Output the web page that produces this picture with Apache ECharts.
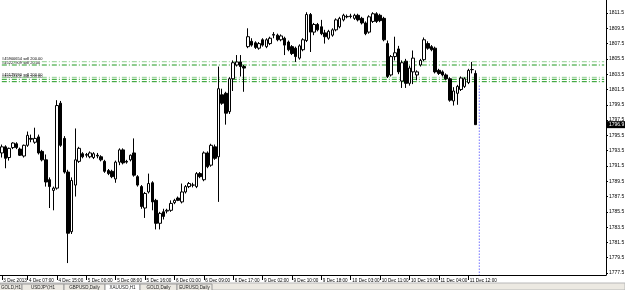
<!DOCTYPE html>
<html>
<head>
<meta charset="utf-8">
<title>XAUUSD H1</title>
<script src="https://cdn.jsdelivr.net/npm/echarts@6/dist/echarts.min.js"></script>
<style>
html, body { margin: 0; padding: 0; background: #fff; }
#chart { width: 625px; height: 290px; }
</style>
</head>
<body>
<div id="chart"></div>
<script>
// H1 bars (3 Dec 23:00 .. 11 Dec 14:00)
var opens = [
  1793.2, 1794.0, 1792.6, 1793.9, 1794.4, 1793.7, 1792.8, 1794.2, 1795.1, 1794.6,
  1795.3, 1793.4, 1792.3, 1789.7, 1788.3, 1788.6, 1799.7, 1795.1, 1790.7, 1782.9,
  1789.0, 1792.1, 1793.1, 1792.9, 1792.7, 1792.6, 1792.9, 1792.7, 1792.1, 1790.9,
  1790.8, 1789.8, 1792.0, 1793.6, 1792.1, 1792.3, 1793.2, 1790.1, 1788.8, 1786.0,
  1788.1, 1789.3, 1787.0, 1784.0, 1785.5, 1785.6, 1785.7, 1786.7, 1787.3, 1786.8,
  1788.1, 1788.8, 1789.0, 1788.8, 1790.5, 1789.7, 1793.2, 1791.6, 1794.0, 1792.7,
  1800.8, 1801.0, 1798.6, 1802.9, 1804.7, 1805.1, 1804.5, 1807.1, 1807.8, 1807.6,
  1806.9, 1808.0, 1807.1, 1807.5, 1808.6, 1808.6, 1808.0, 1808.2, 1807.7, 1807.1,
  1806.9, 1805.6, 1806.7, 1807.9, 1811.3, 1809.0, 1810.0, 1809.7, 1808.9, 1808.2,
  1808.6, 1809.3, 1809.7, 1810.6, 1811.0, 1811.1, 1810.8, 1811.2, 1810.8, 1810.2,
  1809.0, 1810.4, 1811.4, 1811.2, 1810.8, 1807.5, 1803.4, 1805.8, 1806.8, 1802.6,
  1805.2, 1802.3, 1803.8, 1803.4, 1804.7, 1805.4, 1807.5, 1807.1, 1806.9, 1804.0,
  1803.8, 1803.4, 1802.9, 1800.0, 1801.0, 1801.5, 1801.9, 1802.4, 1804.1, 1803.6
];
var highs = [
  1794.3, 1794.2, 1793.9, 1794.6, 1794.6, 1793.9, 1794.3, 1796.0, 1795.6, 1796.5,
  1795.6, 1793.6, 1793.0, 1790.0, 1788.8, 1800.1, 1800.0, 1795.4, 1791.0, 1790.0,
  1796.4, 1794.0, 1793.3, 1793.2, 1793.4, 1793.3, 1793.2, 1792.9, 1792.3, 1791.1,
  1791.0, 1792.2, 1793.8, 1793.8, 1792.3, 1793.0, 1795.1, 1790.3, 1789.0, 1788.1,
  1790.5, 1789.5, 1787.2, 1785.5, 1785.9, 1785.9, 1787.0, 1787.2, 1787.5, 1789.2,
  1789.0, 1789.4, 1789.3, 1790.7, 1790.7, 1793.4, 1793.4, 1794.4, 1794.3, 1804.5,
  1801.6, 1801.2, 1803.1, 1805.3, 1806.0, 1806.0, 1804.7, 1809.5, 1808.2, 1807.8,
  1807.7, 1808.2, 1808.2, 1808.4, 1809.0, 1808.8, 1808.7, 1808.4, 1807.9, 1807.3,
  1807.1, 1807.4, 1808.2, 1811.6, 1811.5, 1810.2, 1810.2, 1810.6, 1809.3, 1809.3,
  1809.5, 1810.8, 1811.0, 1811.4, 1811.3, 1811.4, 1811.4, 1811.4, 1811.0, 1810.4,
  1811.2, 1811.6, 1811.6, 1811.4, 1811.0, 1807.9, 1806.0, 1808.4, 1807.2, 1805.3,
  1805.5, 1804.6, 1806.6, 1804.0, 1805.5, 1808.3, 1807.8, 1807.3, 1807.1, 1804.2,
  1804.0, 1803.6, 1803.1, 1801.8, 1802.1, 1803.2, 1803.1, 1804.2, 1805.1, 1804.0
];
var lows = [
  1792.6, 1791.2, 1792.2, 1793.7, 1793.7, 1792.8, 1792.6, 1794.0, 1794.6, 1794.4,
  1793.0, 1792.1, 1788.8, 1786.0, 1785.7, 1788.4, 1794.0, 1790.5, 1778.8, 1782.6,
  1787.5, 1791.9, 1792.5, 1792.6, 1792.5, 1792.4, 1792.5, 1792.1, 1790.6, 1790.3,
  1789.9, 1789.3, 1791.6, 1791.7, 1791.8, 1792.1, 1790.1, 1788.8, 1785.9, 1784.7,
  1787.9, 1785.7, 1783.2, 1783.2, 1784.5, 1785.3, 1785.5, 1786.5, 1786.9, 1786.6,
  1787.9, 1788.6, 1788.7, 1788.6, 1789.9, 1789.5, 1791.2, 1791.4, 1792.3, 1786.8,
  1799.5, 1796.9, 1798.3, 1801.3, 1804.5, 1803.2, 1801.2, 1806.9, 1807.1, 1806.8,
  1806.7, 1807.1, 1806.9, 1807.3, 1808.2, 1807.8, 1807.8, 1806.0, 1806.5, 1806.0,
  1805.1, 1805.4, 1806.5, 1807.7, 1806.4, 1808.6, 1809.1, 1808.6, 1807.5, 1808.0,
  1808.4, 1809.1, 1809.5, 1810.4, 1810.8, 1810.8, 1810.6, 1810.4, 1810.0, 1808.6,
  1808.8, 1810.2, 1810.2, 1810.3, 1807.8, 1803.0, 1803.2, 1805.3, 1803.5, 1801.7,
  1801.7, 1802.0, 1802.2, 1802.7, 1804.5, 1805.2, 1806.7, 1806.5, 1803.6, 1803.4,
  1803.2, 1802.7, 1799.9, 1799.4, 1799.5, 1801.3, 1801.7, 1802.2, 1803.6, 1796.9
];
var closes = [
  1794.0, 1792.5, 1793.8, 1794.5, 1793.9, 1792.9, 1794.2, 1795.5, 1795.0, 1795.1,
  1793.2, 1792.3, 1789.4, 1788.8, 1788.6, 1799.4, 1794.2, 1790.7, 1782.7, 1789.6,
  1792.3, 1793.8, 1792.7, 1793.0, 1793.2, 1793.1, 1792.8, 1792.3, 1790.8, 1790.5,
  1790.1, 1792.0, 1793.6, 1791.9, 1792.0, 1792.9, 1790.3, 1789.0, 1786.2, 1787.9,
  1789.2, 1786.8, 1784.0, 1785.3, 1784.9, 1785.7, 1786.6, 1787.0, 1787.0, 1788.1,
  1788.8, 1789.2, 1789.0, 1790.5, 1790.1, 1793.2, 1791.4, 1794.2, 1792.5, 1801.6,
  1799.7, 1798.4, 1802.9, 1805.0, 1805.1, 1804.5, 1804.3, 1808.4, 1807.3, 1807.0,
  1807.5, 1807.3, 1808.0, 1808.2, 1808.7, 1808.0, 1808.5, 1807.3, 1806.7, 1806.2,
  1805.8, 1807.2, 1808.0, 1811.3, 1809.0, 1810.0, 1809.3, 1808.8, 1808.4, 1809.1,
  1809.3, 1810.6, 1810.8, 1811.2, 1811.05, 1811.05, 1811.2, 1810.6, 1810.2, 1808.8,
  1811.0, 1811.4, 1810.4, 1810.5, 1808.0, 1803.2, 1805.8, 1806.3, 1803.8, 1805.0,
  1802.3, 1804.3, 1805.6, 1803.8, 1805.3, 1808.0, 1806.9, 1806.7, 1803.8, 1803.6,
  1803.4, 1802.9, 1800.1, 1801.3, 1801.9, 1803.0, 1802.9, 1804.0, 1804.1, 1796.9
];
var emptyBars = 35;

// time scale labels and the bar they sit on
var tickBars = [0, 7, 15, 23, 31, 39, 47, 55, 63, 71, 79, 87, 95, 103, 111, 119, 127];
var tickLabels = ['3 Dec 2013', '4 Dec 07:00', '4 Dec 15:00', '5 Dec 00:00', '5 Dec 08:00',
  '5 Dec 16:00', '6 Dec 01:00', '6 Dec 09:00', '6 Dec 17:00', '9 Dec 02:00', '9 Dec 10:00',
  '9 Dec 18:00', '10 Dec 03:00', '10 Dec 11:00', '10 Dec 19:00', '11 Dec 04:00', '11 Dec 12:00'];

var yTicks = [1777.5, 1779.5, 1781.5, 1783.5, 1785.5, 1787.5, 1789.5, 1791.5, 1793.5,
  1795.5, 1797.5, 1799.5, 1801.5, 1803.5, 1805.5, 1807.5, 1809.5, 1811.5];

// open orders (horizontal lines)
var orderPrices = [1805.13, 1804.70, 1803.09, 1802.83, 1802.52];
var orderColors = ['#8fcf8f', '#1f9a1f', '#8fcf8f', '#1f9a1f', '#1f9a1f'];
var orderLabels = ['#45900654 sell 200.00', '#45227909 sell 20.00', '#45179990 sell 200.00', '#45224401 sell 200.00', ''];

var vlineBar = 130;
var vlineTop = 1802.0;

// terminal chart tabs along the bottom
var tabNames = ['GOLD,H1', 'USDJPY,H1', 'GBPUSD,Daily', 'XAUUSD,H1', 'GOLD,Daily', 'EURUSD,Daily'];
var tabEdges = [-12, 22, 64, 105, 140, 177, 212];
var activeTab = 3;

var yMin = 1777.24, yMax = 1813.2;

var chart = echarts.init(document.getElementById('chart'));

var cats = [];
var candles = [];
for (var i = 0; i < opens.length + emptyBars; i++) {
  cats.push(String(i));
  if (i < opens.length) candles.push([opens[i], closes[i], lows[i], highs[i]]);
}
var lastCat = cats.length - 1;
var tickMap = {};
tickBars.forEach(function (b, j) { tickMap[b] = tickLabels[j]; });

var font = 'Liberation Sans';

var series = [];
// order lines as plain two-point line series
orderPrices.forEach(function (p, j) {
  series.push({
    type: 'line', silent: true, z: 2, showSymbol: false, symbol: 'none',
    data: [[0, p], [lastCat, p]],
    lineStyle: { color: orderColors[j], type: [5, 2, 1, 2], width: 1 }
  });
});
series.push({
  type: 'line', silent: true, z: 2, showSymbol: false, symbol: 'none',
  data: [[vlineBar, vlineTop], [vlineBar, yMin]],
  lineStyle: { color: '#2a2aff', type: [1, 2], width: 1 }
});
series.push({
  type: 'candlestick',
  data: candles,
  barWidth: 3,
  z: 5,
  itemStyle: {
    color: '#ffffff', color0: '#000000',
    borderColor: '#000000', borderColor0: '#000000', borderWidth: 1
  }
});

chart.setOption({
  animation: false,
  backgroundColor: '#ffffff',
  grid: { left: 0, right: 19, top: 0, bottom: 15, outerBoundsMode: 'none' },
  xAxis: {
    type: 'category',
    data: cats,
    boundaryGap: true,
    axisLine: { show: true, lineStyle: { color: '#000', width: 1 } },
    axisTick: {
      show: true, alignWithLabel: true, length: 5, lineStyle: { color: '#000' },
      interval: function (idx) { return tickMap[idx] !== undefined; }
    },
    axisLabel: {
      show: true, align: 'left', margin: 3, padding: [0, 0, 0, 1.5],
      fontSize: 4.6, fontFamily: font, color: '#000',
      interval: function (idx) { return tickMap[idx] !== undefined; },
      formatter: function (v, idx) { return tickMap[idx] || ''; }
    },
    splitLine: { show: false }
  },
  yAxis: {
    type: 'value',
    position: 'right',
    min: yMin,
    max: yMax,
    axisLine: { show: true, lineStyle: { color: '#000', width: 1 } },
    axisTick: { show: true, length: 2, lineStyle: { color: '#000' }, customValues: yTicks },
    axisLabel: {
      show: true, margin: 3, fontSize: 5, fontFamily: font, color: '#000',
      customValues: yTicks,
      formatter: function (v) { return v.toFixed(1); }
    },
    splitLine: { show: false }
  },
  series: series
});

// texts placed through the chart's own scales
var g = [{
  type: 'rect', shape: { x: 0, y: 283, width: 625, height: 7 },
  style: { fill: '#ece9e2', stroke: '#b8b8b8', lineWidth: 1 }, silent: true
}];
tabNames.forEach(function (t, j) {
  var x0 = tabEdges[j], x1 = tabEdges[j + 1];
  g.push({
    type: 'rect', shape: { x: x0, y: 284, width: x1 - x0, height: 7 },
    style: { fill: j === activeTab ? '#ffffff' : '#ece9e2', stroke: '#9a9a9a', lineWidth: 1 }, silent: true
  });
  g.push({
    type: 'text', x: (x0 + x1) / 2 + (j === 0 ? 6 : 0), y: 285.5,
    style: { text: t, font: '4.5px ' + font, fill: '#222', align: 'center' }, silent: true
  });
});
orderPrices.forEach(function (p, j) {
  if (!orderLabels[j]) return;
  var y = chart.convertToPixel({ yAxisIndex: 0 }, p);
  g.push({
    type: 'text', x: 2, y: y - 4.5,
    style: { text: orderLabels[j], font: '4px ' + font, fill: '#000' }, silent: true
  });
});
var last = closes[closes.length - 1];
var py = chart.convertToPixel({ yAxisIndex: 0 }, last);
g.push({ type: 'rect', shape: { x: 607, y: py - 3.5, width: 18, height: 7 }, style: { fill: '#000' }, silent: true });
g.push({ type: 'text', x: 609, y: py - 2.5, style: { text: last.toFixed(1), font: '5px ' + font, fill: '#fff' }, silent: true });
chart.setOption({ graphic: g });
</script>
</body>
</html>
